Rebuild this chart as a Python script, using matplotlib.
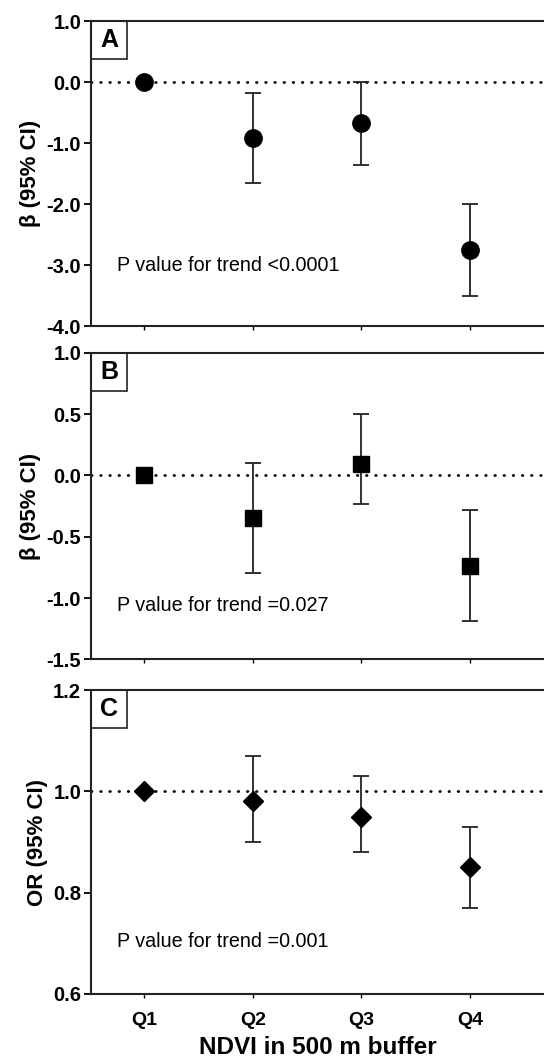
import numpy as np
import matplotlib
matplotlib.use("Agg")
import matplotlib.pyplot as plt
from matplotlib.patches import Rectangle

plt.rcParams['font.family'] = ['Liberation Sans', 'DejaVu Sans']
plt.rcParams['axes.unicode_minus'] = False

#quartiles of NDVI
quartiles = ["Q1", "Q2", "Q3", "Q4"]
xpos = [1, 2, 3, 4]

#panel A : beta and 95% CI
a_est = [0.0, -0.91, -0.67, -2.75]
a_lo = [0.0, -1.65, -1.35, -3.50]
a_hi = [0.0, -0.17, 0.0, -2.0]

#panel B : beta and 95% CI
b_est = [0.0, -0.35, 0.09, -0.74]
b_lo = [0.0, -0.80, -0.23, -1.19]
b_hi = [0.0, 0.10, 0.50, -0.28]

#panel C : odds ratio and 95% CI
c_est = [1.0, 0.98, 0.95, 0.85]
c_lo = [1.0, 0.90, 0.88, 0.77]
c_hi = [1.0, 1.07, 1.03, 0.93]

panels = [
  dict(tag="A", est=a_est, lo=a_lo, hi=a_hi, marker="o", ms=12.5, ref=0.0,
       ylim=(-4.0, 1.0), yticks=[1.0, 0.0, -1.0, -2.0, -3.0, -4.0],
       ylabel="\u03b2 (95% CI)", ptext="P value for trend <0.0001", py=-3.0,
       rect=[0.167, 0.692, 0.833, 0.288]),
  dict(tag="B", est=b_est, lo=b_lo, hi=b_hi, marker="s", ms=11, ref=0.0,
       ylim=(-1.5, 1.0), yticks=[1.0, 0.5, 0.0, -0.5, -1.0, -1.5],
       ylabel="\u03b2 (95% CI)", ptext="P value for trend =0.027", py=-1.065,
       rect=[0.167, 0.3774, 0.833, 0.2895]),
  dict(tag="C", est=c_est, lo=c_lo, hi=c_hi, marker="D", ms=10, ref=1.0,
       ylim=(0.6, 1.2), yticks=[1.2, 1.0, 0.8, 0.6],
       ylabel="OR (95% CI)", ptext="P value for trend =0.001", py=0.703,
       rect=[0.167, 0.0614, 0.833, 0.287]),
]

fig = plt.figure(figsize=(5.44, 10.59), dpi=100)

for i, pn in enumerate(panels):
  ax = fig.add_axes(pn["rect"])
  est = np.array(pn["est"])
  yerr = [est - np.array(pn["lo"]), np.array(pn["hi"]) - est]
  ax.axhline(pn["ref"], color="black", linestyle=(0, (0.2, 3.1)), lw=2.0,
             dash_capstyle="round", zorder=1)
  ax.errorbar(xpos, est, yerr=yerr, fmt=pn["marker"], ms=pn["ms"],
              color="black", ecolor="#222222", elinewidth=1.3, capsize=5.8,
              capthick=1.3, zorder=3)
  ax.set_xlim(0.51, 4.68)
  ax.set_ylim(*pn["ylim"])
  ax.set_yticks(pn["yticks"])
  ax.set_yticklabels(["%.1f" % v for v in pn["yticks"]], fontweight="bold", fontsize=14.5)
  ax.set_xticks(xpos)
  if i == 2:
    ax.set_xticklabels(quartiles, fontweight="bold", fontsize=14)
    ax.set_xlabel("NDVI in 500 m buffer", fontweight="bold", fontsize=17.5, labelpad=5)
  else:
    ax.set_xticklabels([])
  ax.tick_params(axis="y", direction="out", length=5, width=1.3, pad=2)
  ax.tick_params(axis="x", direction="out", length=3, width=1.0, pad=10)
  ax.set_ylabel(pn["ylabel"], fontweight="bold", fontsize=16, labelpad=4)
  ax.spines["right"].set_visible(False)
  for s in ["left", "bottom", "top"]:
    ax.spines[s].set_linewidth(1.5)
    ax.spines[s].set_color("#222222")
  #letter box in the top left corner
  ax.add_patch(Rectangle((0, 1 - 0.125), 0.08, 0.125, transform=ax.transAxes,
                         fill=False, edgecolor="#222222", lw=1.2, clip_on=False))
  ax.text(0.04, 1 - 0.0625, pn["tag"], transform=ax.transAxes, ha="center",
          va="center", fontweight="bold", fontsize=18)
  ax.text(0.75, pn["py"], pn["ptext"], ha="left", va="center", fontsize=14.2)

fig.savefig("out.png", dpi=100)
